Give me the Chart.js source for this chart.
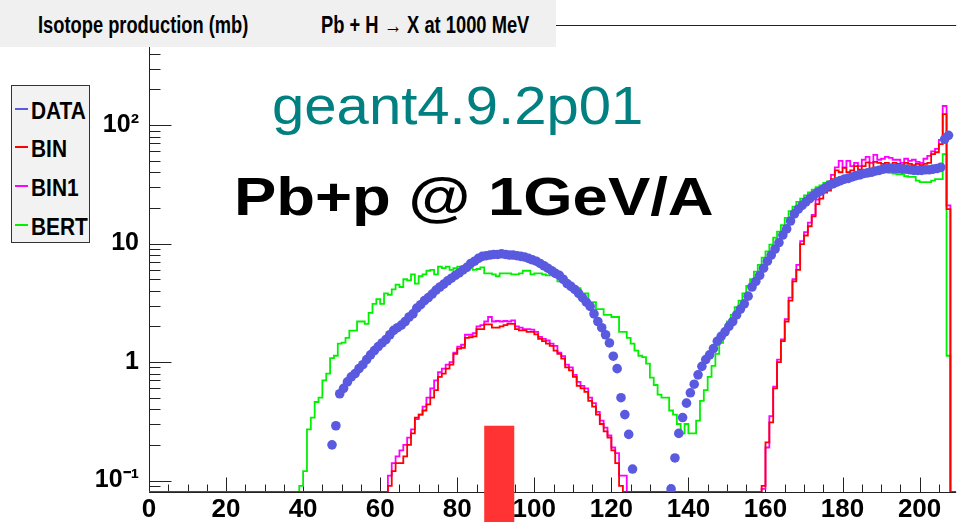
<!DOCTYPE html>
<html><head><meta charset="utf-8">
<script src="https://cdn.jsdelivr.net/npm/chart.js@4.4.0/dist/chart.umd.min.js"></script>
<style>
html,body{margin:0;padding:0;background:#fff;}
#wrap{position:relative;width:961px;height:522px;overflow:hidden;background:#fff;font-family:"Liberation Sans",Arial,Helvetica,sans-serif;}
#c{position:absolute;left:0;top:0;}
.txt{position:absolute;white-space:nowrap;line-height:1;transform-origin:0 0;}
#titlebar{position:absolute;left:0;top:0;width:556px;height:47px;background:#f0f0f0;}
#legend{position:absolute;left:11px;top:85px;width:79px;height:158px;box-sizing:border-box;border:1px solid #333;background:#f2f2f2;}
.mark{position:absolute;height:2px;width:13px;}
</style></head>
<body><div id="wrap"><canvas id="c" width="961" height="522"></canvas>
<div id="titlebar"></div><div id="legend"></div></div>
<script>
// ---------------- data ----------------
const seriesNames = ['DATA', 'BIN', 'BIN1', 'BERT'];
const titleLeft = 'Isotope production (mb)';
const titleRight = 'Pb + H \u2192 X at 1000 MeV';
const noteVersion = 'geant4.9.2p01';
const noteSystem = 'Pb+p @ 1GeV/A';

const xTickValues = [0, 20, 40, 60, 80, 100, 120, 140, 160, 180, 200];
const yTickValues = [0.1, 1, 10, 100];
const yTickLabels = ['10\u207B\u00B9', '1', '10', '10\u00B2'];

// DATA (mass number A -> mb)
const dataLeftA0 = 47;
const dataLeft = [
  0.2, 0.29, 0.54, 0.6, 0.68, 0.75, 0.8, 0.88, 0.95, 1.05,
  1.15, 1.25, 1.35, 1.45, 1.55, 1.7, 1.85, 1.95, 2.05, 2.2,
  2.4, 2.55, 2.85, 3.05, 3.3, 3.5, 3.75, 4.05, 4.3, 4.55,
  4.85, 5.1, 5.4, 5.65, 6.0, 6.3, 6.8, 7.1, 7.5, 7.8,
  7.9, 8.0, 8.1, 8.1, 8.2, 8.1, 8.0, 8.0, 7.9, 7.8,
  7.7, 7.5, 7.3, 7.1, 6.8, 6.5, 6.2, 5.9, 5.6, 5.4,
  5.0, 4.6, 4.35, 4.1, 3.8, 3.5, 3.2, 2.95, 2.55, 2.2,
  1.95, 1.7, 1.45, 1.12, 0.88, 0.5, 0.36, 0.245, 0.125
];
const dataRightA0 = 135;
const dataRight = [
  0.085, 0.155, 0.25, 0.34, 0.45, 0.55, 0.65, 0.78, 0.92, 1.05,
  1.15, 1.3, 1.5, 1.65, 1.8, 2.0, 2.2, 2.5, 2.8, 3.1,
  3.6, 4.3, 4.8, 5.4, 6.2, 7.1, 8.0, 9.0, 10.2, 11.8,
  13.3, 15.5, 17.8, 19.5, 21, 22.5, 24, 25.5, 27, 28,
  29.5, 31, 32, 33, 34, 35, 35.5, 36.5, 37.5, 38,
  39, 39.5, 40, 41, 41.5, 42.5, 43, 43.5, 43, 43,
  42.5, 42.5, 42, 41.5, 41.5, 41.5, 42, 42, 42.5, 43,
  44, 76, 82
];

// BIN histogram
const binLeftA0 = 63;
const binLeft = [
  0.09, 0.12, 0.14, 0.14, 0.16, 0.2, 0.25, 0.34, 0.36, 0.39,
  0.44, 0.5, 0.58, 0.75, 0.8, 0.88, 0.95, 1.17, 1.3, 1.32,
  1.6, 1.62, 1.65, 1.9, 1.9, 2.08, 2.08, 1.95, 1.95, 2.0,
  2.05, 2.1, 2.1, 1.9, 1.85, 1.85, 1.8, 1.8, 1.71, 1.57,
  1.5, 1.43, 1.37, 1.25, 1.17, 1.07, 0.9, 0.85, 0.75, 0.63,
  0.6, 0.56, 0.47, 0.42, 0.36, 0.3, 0.26, 0.23, 0.18, 0.14,
  0.09
];
const binRightA0 = 160;
const binRight = [
  0.09, 0.21, 0.31, 0.6, 1.0, 1.5, 2.2, 3.3, 4.8, 6.0,
  9.9, 11.7, 14, 17, 21.5, 24, 27, 28, 35, 41.5,
  40, 43.5, 40, 41.5, 45, 42, 45, 48.5, 43, 49,
  48, 47, 48, 46, 48, 47, 46, 48, 47, 46,
  47, 46, 47, 48, 57, 59, 69, 124, 19.5
];

// BIN1 histogram
const bin1LeftA0 = 63;
const bin1Left = [
  0.11, 0.14, 0.16, 0.18, 0.2, 0.23, 0.27, 0.33, 0.36, 0.42,
  0.5, 0.6, 0.7, 0.82, 0.88, 0.95, 1.0, 1.2, 1.35, 1.4,
  1.7, 1.7, 1.75, 2.0, 2.05, 2.2, 2.4, 2.2, 2.22, 2.2,
  2.22, 2.2, 2.25, 2.0, 1.95, 1.9, 1.9, 1.88, 1.8, 1.63,
  1.57, 1.52, 1.43, 1.37, 1.2, 1.12, 0.95, 0.9, 0.78, 0.68,
  0.63, 0.6, 0.5, 0.45, 0.38, 0.32, 0.28, 0.24, 0.19, 0.17,
  0.11, 0.11
];
const bin1RightA0 = 160;
const bin1Right = [
  0.085, 0.19, 0.35, 0.62, 1.05, 1.55, 2.3, 3.5, 5.0, 6.6,
  10.5, 12.5, 15, 17.5, 23.5, 26, 28, 31, 38, 44,
  50, 44, 50, 45, 48, 45, 51, 54, 48, 56,
  51, 52, 54, 53, 51, 51, 48, 52, 50, 51,
  49, 48, 52, 55, 60, 63, 75, 145, 21
];

// BERT histogram
const bertA0 = 40;
const bert = [
  0.09, 0.12, 0.27, 0.34, 0.46, 0.5, 0.7, 0.8, 1.08, 1.13,
  1.43, 1.46, 1.6, 1.84, 1.84, 2.2, 2.2, 2.1, 2.6, 3.1,
  3.4, 3.1, 3.8, 3.7, 4.1, 4.5, 4.3, 5.0, 4.9, 5.5,
  4.6, 5.3, 5.5, 5.9, 6.0, 5.5, 6.4, 6.2, 6.4, 6.0,
  6.2, 6.4, 6.4, 6.4, 6.2, 6.0, 6.1, 6.3, 5.6, 5.6,
  5.5, 5.3, 5.6, 5.6, 5.6, 5.5, 5.5, 5.6, 5.9, 5.9,
  5.5, 5.6, 5.6, 5.5, 5.4, 5.4, 5.3, 4.8, 4.8, 4.6,
  4.6, 4.2, 4.2, 3.8, 3.8, 3.2, 3.2, 2.8, 2.8, 2.5,
  2.5, 2.4, 2.4, 1.8, 1.8, 1.6, 1.43, 1.25, 1.13, 1.1,
  0.97, 0.74, 0.64, 0.53, 0.5, 0.5, 0.39, 0.36, 0.3, 0.25,
  0.3, 0.25, 0.25, 0.32, 0.47, 0.58, 0.75, 0.93, 1.17, 1.45,
  1.9, 2.2, 2.5, 2.9, 3.3, 3.8, 4.4, 5.0, 5.8, 6.6,
  7.6, 8.6, 9.8, 11.2, 12.6, 14.3, 16.5, 18.8, 20.5, 22.5,
  24, 25.5, 27, 28.5, 30, 31, 32.5, 33.5, 34.5, 35.5,
  36.5, 37, 38, 39, 40, 40, 41, 41, 41.5, 41.5,
  41, 40.5, 40, 39.5, 39, 38.5, 38.5, 37, 36.5, 36.5,
  34, 33, 33, 33, 34, 35, 35, 57, 1.13
];

// red marker box drawn over the axis (A range and top value)
const markerBox = { aFrom: 87, aTo: 94.8, top: 0.29 };

// ---------------- setup ----------------
const X_MIN = 0, X_MAX = 209.5, Y_MIN = 0.08, Y_MAX = 700, LAST_BIN = 209;
const FONT = '"Liberation Sans", Arial, Helvetica, sans-serif';
const colors = { DATA: '#5a5ae0', BIN: '#ff0000', BIN1: '#ff00ff', BERT: '#00f000' };

// histogram bins span [A, A+1)
function histPoints(segments) {
  const pts = [];
  for (let a = 0; a <= LAST_BIN; a++) {
    let v = 0;
    for (const [a0, vals] of segments) {
      const i = a - a0;
      if (i >= 0 && i < vals.length) v = vals[i];
    }
    pts.push({ x: a, y: v > 0 ? v : Y_MIN });
  }
  pts.push({ x: X_MAX, y: Y_MIN });
  return pts;
}
// data points at bin centres
function scatterPoints(segments) {
  const pts = [];
  for (const [a0, vals] of segments) vals.forEach((v, i) => pts.push({ x: a0 + i + 0.5, y: v }));
  return pts;
}

const histStyle = { showLine: true, stepped: 'after', pointRadius: 0, borderWidth: 1.8, fill: false };

const rootAxes = {
  id: 'rootAxes',
  beforeDatasetsDraw(chart) {
    const { ctx, chartArea: ca, scales: { x, y } } = chart;
    ctx.save();
    ctx.strokeStyle = '#222';
    ctx.lineWidth = 1;
    ctx.beginPath();
    const L = Math.round(ca.left) + 0.5, B = Math.round(ca.bottom) + 0.5, T = Math.round(ca.top) + 0.5;
    ctx.moveTo(L, T); ctx.lineTo(L, B); ctx.lineTo(ca.right, B);
    ctx.moveTo(L, T); ctx.lineTo(ca.right, T);
    for (let v = 0; v <= x.max; v += 5) {
      const px = Math.round(x.getPixelForValue(v)) + 0.5;
      const len = v % 20 === 0 ? 15 : 8;
      ctx.moveTo(px, B); ctx.lineTo(px, B - len);
    }
    for (let d = -2; d <= 3; d++) {
      for (let m = 1; m <= 9; m++) {
        const v = m * Math.pow(10, d);
        if (v < y.min * 0.999 || v > y.max * 1.001) continue;
        const py = Math.round(y.getPixelForValue(v)) + 0.5;
        const len = m === 1 ? 22 : 11;
        ctx.moveTo(L, py); ctx.lineTo(L + len, py);
      }
    }
    ctx.stroke();
    ctx.restore();
  },
  afterDraw(chart) {
    const { ctx, scales: { x, y } } = chart;
    const x0 = x.getPixelForValue(markerBox.aFrom), x1 = x.getPixelForValue(markerBox.aTo);
    const y0 = y.getPixelForValue(markerBox.top);
    ctx.save();
    ctx.fillStyle = '#ff3333';
    ctx.fillRect(x0, y0, x1 - x0, chart.height - y0);
    ctx.restore();
  }
};

new Chart(document.getElementById('c'), {
  type: 'line',
  data: {
    datasets: [
      { label: 'DATA', data: scatterPoints([[dataLeftA0, dataLeft], [dataRightA0, dataRight]]),
        showLine: false, pointRadius: 4.8, pointHoverRadius: 4.8, pointBorderWidth: 0,
        pointBackgroundColor: colors.DATA, borderColor: colors.DATA, backgroundColor: colors.DATA, order: 0 },
      Object.assign({ label: 'BIN', data: histPoints([[binLeftA0, binLeft], [binRightA0, binRight]]),
        borderColor: colors.BIN, backgroundColor: colors.BIN, order: 1 }, histStyle),
      Object.assign({ label: 'BIN1', data: histPoints([[bin1LeftA0, bin1Left], [bin1RightA0, bin1Right]]),
        borderColor: colors.BIN1, backgroundColor: colors.BIN1, order: 2 }, histStyle),
      Object.assign({ label: 'BERT', data: histPoints([[bertA0, bert]]),
        borderColor: colors.BERT, backgroundColor: colors.BERT, order: 3 }, histStyle)
    ]
  },
  options: {
    responsive: false,
    animation: false,
    devicePixelRatio: 1,
    layout: { padding: { top: 22, right: 1, left: 0, bottom: 0 } },
    plugins: { legend: { display: false }, tooltip: { enabled: false }, title: { display: false } },
    scales: {
      x: {
        type: 'linear', min: X_MIN, max: X_MAX,
        grid: { display: false, drawTicks: false },
        border: { display: false },
        afterBuildTicks: (s) => { s.ticks = xTickValues.map(v => ({ value: v })); },
        afterFit: (s) => { s.height = 30; },
        ticks: { autoSkip: false, maxRotation: 0, padding: 2, color: '#000',
          font: { family: FONT, size: 26, weight: 'bold' },
          callback: (v) => String(v) }
      },
      y: {
        type: 'logarithmic', min: Y_MIN, max: Y_MAX,
        grid: { display: false, drawTicks: false },
        border: { display: false },
        afterBuildTicks: (s) => { s.ticks = yTickValues.map(v => ({ value: v })); },
        afterFit: (s) => { s.width = 149; },
        ticks: { autoSkip: false, padding: 10, color: '#000',
          font: { family: FONT, size: 25, weight: 'bold' },
          callback: (v) => { const i = yTickValues.indexOf(v); return i >= 0 ? yTickLabels[i] : null; } }
      }
    }
  },
  plugins: [rootAxes]
});

// ---------------- texts (HTML) ----------------
const wrap = document.getElementById('wrap');
function placeText(parent, text, o) {
  const s = document.createElement('span');
  s.className = 'txt';
  s.textContent = text;
  s.style.font = `${o.weight || 'normal'} ${o.size}px ${FONT}`;
  s.style.color = o.color || '#000';
  s.style.left = o.left + 'px';
  s.style.top = (o.baseline - 0.8465 * o.size) + 'px';
  parent.appendChild(s);
  if (o.width) s.style.transform = `scaleX(${o.width / s.offsetWidth})`;
  else if (o.scale) s.style.transform = `scaleX(${o.scale})`;
  return s;
}
const tb = document.getElementById('titlebar');
placeText(tb, titleLeft, { left: 38, baseline: 31, size: 23, weight: 'bold', width: 210 });
placeText(tb, titleRight, { left: 321, baseline: 31, size: 23, weight: 'bold', width: 208 });

const lg = document.getElementById('legend');
seriesNames.forEach((name, i) => {
  const base = 31 + 38.7 * i;
  const m = document.createElement('div');
  m.className = 'mark';
  m.style.left = '3px';
  m.style.top = (base - 9.5) + 'px';
  m.style.background = colors[name];
  lg.appendChild(m);
  placeText(lg, name, { left: 19, baseline: base, size: 24, weight: 'bold', scale: 0.87 });
});

placeText(wrap, noteVersion, { left: 272, baseline: 120, size: 54, color: '#008080', width: 371 });
placeText(wrap, noteSystem, { left: 234, baseline: 211, size: 53, weight: 'bold', width: 480 });
</script></body></html>
